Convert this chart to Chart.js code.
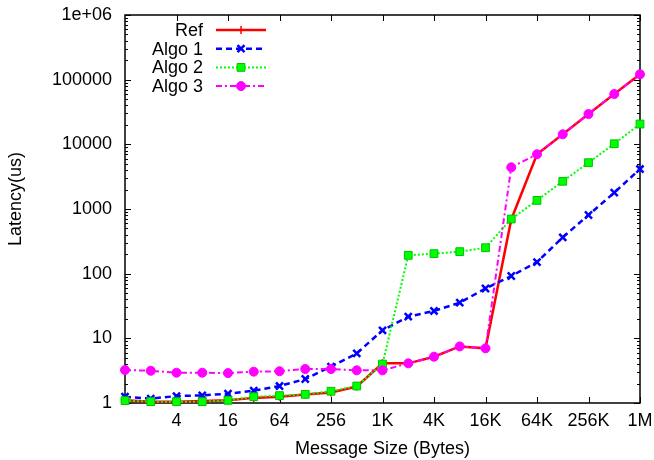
<!DOCTYPE html>
<html>
<head>
<meta charset="utf-8">
<script src="https://cdn.jsdelivr.net/npm/chart.js@4/dist/chart.umd.min.js"></script>
<style>
  html, body { margin: 0; padding: 0; background: #fff; }
  #wrap { width: 654px; height: 460px; position: relative; }
</style>
</head>
<body>
<div id="wrap"><canvas id="c" width="654" height="460"></canvas></div>
<script>
// Message sizes in bytes (one measurement per power of two)
const messageSizes = [1, 2, 4, 8, 16, 32, 64, 128, 256, 512, 1024, 2048, 4096, 8192,
  16384, 32768, 65536, 131072, 262144, 524288, 1048576];

// Latency in microseconds for each algorithm
const refLatency   = [1.1, 1.05, 1.05, 1.07, 1.1, 1.2, 1.25, 1.35, 1.45, 1.8, 4.1, 4.1,
  5.2, 7.5, 7.0, 690, 7000, 14300, 29400, 60000, 121000];
const algo1Latency = [1.25, 1.17, 1.28, 1.31, 1.39, 1.55, 1.83, 2.35, 3.65, 5.85, 13.3, 21.6,
  26.5, 35.6, 59, 92, 151, 365, 807, 1790, 4150];
const algo2Latency = [1.09, 1.05, 1.05, 1.05, 1.1, 1.25, 1.3, 1.36, 1.52, 1.83, 4.0, 192,
  204, 219, 252, 700, 1360, 2680, 5200, 10200, 20600];
const algo3Latency = [3.24, 3.15, 2.94, 2.94, 2.9, 3.05, 3.1, 3.35, 3.35, 3.2, 3.2, 4.1,
  5.2, 7.5, 7.0, 4410, 7010, 14300, 29400, 60000, 121000];

// Axis ticks
const xTickValues = [4, 16, 64, 256, 1024, 4096, 16384, 65536, 262144, 1048576];
const xTickLabels = ['4', '16', '64', '256', '1K', '4K', '16K', '64K', '256K', '1M'];
const yTickValues = [1, 10, 100, 1000, 10000, 100000, 1000000];
const yTickLabels = ['1', '10', '100', '1000', '10000', '100000', '1e+06'];
const yMinorSteps = [2, 3, 4, 5, 6, 7, 8, 9];

const FONT = '"Liberation Sans", Arial, Helvetica, sans-serif';
Chart.defaults.font.family = FONT;
Chart.defaults.font.size = 18;
Chart.defaults.color = '#000';

function pairs(values) {
  return messageSizes.map((s, i) => ({ x: s, y: values[i] }));
}

// Keep the plot box governed by the layout padding alone
function noLabelOverflow(s) {
  s.paddingTop = 0; s.paddingBottom = 0; s.paddingLeft = 0; s.paddingRight = 0;
}

// Boxed frame with inward ticks on all four sides
const framePlugin = {
  id: 'frame',
  beforeDatasetsDraw(chart) {
    const { ctx, chartArea: { left, right, top, bottom } } = chart;
    const xs = chart.scales.x, ys = chart.scales.y;
    const seg = (x1, y1, x2, y2) => { ctx.beginPath(); ctx.moveTo(x1, y1); ctx.lineTo(x2, y2); ctx.stroke(); };
    ctx.save();
    ctx.strokeStyle = '#000';
    ctx.lineWidth = 1;
    xTickValues.forEach(v => {
      const px = Math.round(xs.getPixelForValue(v)) + 0.5;
      seg(px, bottom, px, bottom - 6);
      seg(px, top, px, top + 6);
    });
    yTickValues.forEach(v => {
      const py = Math.round(ys.getPixelForValue(v)) + 0.5;
      seg(left, py, left + 6, py);
      seg(right, py, right - 6, py);
    });
    for (let d = 0; d < yTickValues.length - 1; d++) {
      yMinorSteps.forEach(m => {
        const py = Math.round(ys.getPixelForValue(yTickValues[d] * m)) + 0.5;
        seg(left, py, left + 3, py);
        seg(right, py, right - 3, py);
      });
    }
    ctx.lineWidth = 1.5;
    ctx.strokeRect(left, top, right - left, bottom - top);
    ctx.restore();
  },
  afterDraw(chart) {
    const { ctx, chartArea: { left, top, bottom } } = chart;
    // Y axis title
    ctx.save();
    ctx.font = '18px ' + FONT;
    ctx.fillStyle = '#000';
    ctx.textAlign = 'center';
    ctx.textBaseline = 'middle';
    ctx.translate(16, (top + bottom) / 2 - 10);
    ctx.rotate(-Math.PI / 2);
    ctx.fillText('Latency(us)', 0, 0);
    ctx.restore();

    // Key: right-aligned labels followed by a line sample with its marker
    chart.data.datasets.forEach((ds, i) => {
      const y = top + 15 + i * 18.7;
      const textRight = left + 78, x1 = left + 91, x2 = left + 141, xm = (x1 + x2) / 2;
      ctx.save();
      ctx.font = '18px ' + FONT;
      ctx.fillStyle = '#000';
      ctx.textAlign = 'right';
      ctx.textBaseline = 'middle';
      ctx.fillText(ds.label, textRight, y + 1);
      ctx.strokeStyle = ds.borderColor;
      ctx.lineWidth = ds.borderWidth;
      ctx.setLineDash(ds.borderDash || []);
      ctx.beginPath(); ctx.moveTo(x1, y); ctx.lineTo(x2, y); ctx.stroke();
      ctx.setLineDash([]);
      ctx.fillStyle = ds.pointBackgroundColor;
      ctx.strokeStyle = ds.pointBorderColor;
      ctx.lineWidth = ds.pointBorderWidth;
      Chart.helpers.drawPoint(ctx, {
        pointStyle: ds.pointStyle, radius: ds.pointRadius,
        borderWidth: ds.pointBorderWidth, rotation: 0
      }, xm, y);
      ctx.restore();
    });
  }
};

new Chart(document.getElementById('c'), {
  type: 'line',
  data: {
    datasets: [
      {
        label: 'Ref', data: pairs(refLatency), order: 4,
        borderColor: '#ff0000', borderWidth: 2.5,
        pointStyle: 'cross', pointRadius: 4, pointBorderWidth: 1.5,
        pointBorderColor: '#ff0000', pointBackgroundColor: '#ff0000'
      },
      {
        label: 'Algo 1', data: pairs(algo1Latency), order: 3,
        borderColor: '#0000ff', borderWidth: 2.5, borderDash: [6, 4],
        pointStyle: 'crossRot', pointRadius: 5, pointBorderWidth: 2.5,
        pointBorderColor: '#0000ff', pointBackgroundColor: '#0000ff'
      },
      {
        label: 'Algo 2', data: pairs(algo2Latency), order: 2,
        borderColor: '#00ff00', borderWidth: 2, borderDash: [2, 2],
        pointStyle: 'rect', pointRadius: 5.5, pointBorderWidth: 1,
        pointBorderColor: '#00c000', pointBackgroundColor: '#00ff00'
      },
      {
        label: 'Algo 3', data: pairs(algo3Latency), order: 1,
        borderColor: '#ff00ff', borderWidth: 2, borderDash: [6, 3, 2, 3],
        pointStyle: 'circle', pointRadius: 4.5, pointBorderWidth: 1,
        pointBorderColor: '#ff00ff', pointBackgroundColor: '#ff00ff'
      }
    ]
  },
  options: {
    responsive: false,
    animation: false,
    devicePixelRatio: 1,
    layout: { padding: { top: 15, right: 14, left: 0, bottom: 0 } },
    elements: { line: { tension: 0, fill: false } },
    datasets: { line: { clip: false } },
    plugins: { legend: { display: false }, tooltip: { enabled: false } },
    scales: {
      x: {
        type: 'logarithmic', min: 1, max: 1048576,
        afterBuildTicks(s) { s.ticks = xTickValues.map(v => ({ value: v })); },
        afterFit(s) { s.height = 57; noLabelOverflow(s); },
        ticks: {
          autoSkip: false, maxRotation: 0, minRotation: 0, padding: 7, color: '#000',
          callback: (v, i) => xTickLabels[i]
        },
        grid: { display: false, drawTicks: false },
        border: { display: false },
        title: { display: true, text: 'Message Size (Bytes)', color: '#000', padding: { top: 0, bottom: 0 } }
      },
      y: {
        type: 'logarithmic', min: 1, max: 1000000,
        afterBuildTicks(s) { s.ticks = yTickValues.map(v => ({ value: v })); },
        afterFit(s) { s.width = 125; noLabelOverflow(s); },
        ticks: {
          autoSkip: false, padding: 13, color: '#000',
          callback: (v, i) => yTickLabels[i]
        },
        grid: { display: false, drawTicks: false },
        border: { display: false }
      }
    }
  },
  plugins: [framePlugin]
});
</script>
</body>
</html>
